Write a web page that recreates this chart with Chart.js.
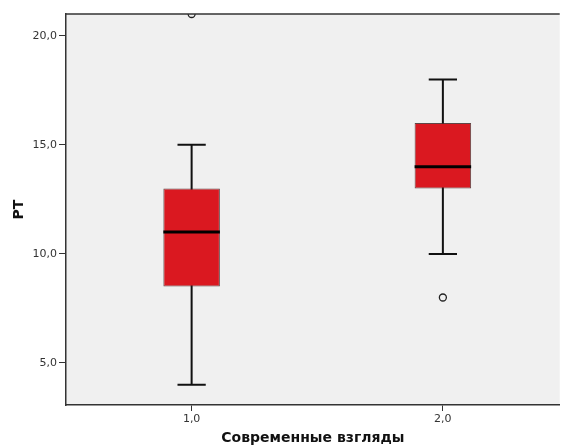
<!DOCTYPE html>
<html>
<head>
<meta charset="utf-8">
<script src="https://cdn.jsdelivr.net/npm/chart.js@4"></script>
<style>
	html, body { margin: 0; padding: 0; background: #fff; overflow: hidden; }
</style>
</head>
<body>
<canvas id="chart" width="565" height="448"></canvas>
<script>
// boxplot summary per group
const groups = [1, 2];
const whiskerLow = [4, 10];
const q1 = [8.5, 13];
const median = [11, 14];
const q3 = [13, 16];
const whiskerHigh = [15, 18];
const outlierGroups = [1, 2];
const outlierValues = [21, 8];
const yTicks = [5, 10, 15, 20];

const fmt = (v) => v.toFixed(1).replace(".", ",");

const boxPlugin = {
	id: "boxParts",
	beforeDraw(chart) {
		const { ctx, chartArea: a } = chart;
		ctx.save();
		ctx.fillStyle = "#f0f0f0";
		ctx.fillRect(a.left, a.top, a.right - a.left, a.bottom - a.top);
		ctx.restore();
	},
	beforeDatasetsDraw(chart) {
		const { ctx, scales } = chart;
		const y = scales.y;
		const bars = chart.getDatasetMeta(0).data;
		ctx.save();
		ctx.strokeStyle = "#111";
		ctx.lineWidth = 2;
		bars.forEach((bar, i) => {
			const cap = bar.width / 4;
			const lo = y.getPixelForValue(whiskerLow[i]);
			const hi = y.getPixelForValue(whiskerHigh[i]);
			ctx.beginPath();
			ctx.moveTo(bar.x, lo);
			ctx.lineTo(bar.x, hi);
			ctx.moveTo(bar.x - cap, lo);
			ctx.lineTo(bar.x + cap, lo);
			ctx.moveTo(bar.x - cap, hi);
			ctx.lineTo(bar.x + cap, hi);
			ctx.stroke();
		});
		ctx.restore();
	},
	afterDatasetsDraw(chart) {
		const { ctx, scales, chartArea: a } = chart;
		const y = scales.y;
		const bars = chart.getDatasetMeta(0).data;
		ctx.save();
		ctx.strokeStyle = "#000";
		ctx.lineWidth = 3;
		bars.forEach((bar, i) => {
			const m = y.getPixelForValue(median[i]);
			ctx.beginPath();
			ctx.moveTo(bar.x - bar.width / 2, m);
			ctx.lineTo(bar.x + bar.width / 2, m);
			ctx.stroke();
		});
		// top edge of the frame (right edge falls outside the picture)
		ctx.strokeStyle = "#333";
		ctx.lineWidth = 1.5;
		ctx.beginPath();
		ctx.moveTo(a.left, a.top);
		ctx.lineTo(a.right, a.top);
		ctx.stroke();
		ctx.restore();
	},
};

Chart.defaults.font.family = "'DejaVu Sans', Verdana, sans-serif";

new Chart(document.getElementById("chart").getContext("2d"), {
	data: {
		datasets: [
			{
				type: "bar",
				data: groups.map((g, i) => ({ x: g, y: [q1[i], q3[i]] })),
				backgroundColor: "rgb(218, 24, 32)",
				borderColor: "rgba(70, 40, 40, 0.85)",
				borderWidth: 1,
				borderSkipped: false,
				barPercentage: 0.225,
				categoryPercentage: 1,
				order: 2,
			},
			{
				type: "line",
				data: outlierGroups.map((g, i) => ({ x: g, y: outlierValues[i] })),
				showLine: false,
				pointRadius: 3.5,
				pointBorderWidth: 1.3,
				pointBorderColor: "#222",
				pointBackgroundColor: "rgba(0,0,0,0)",
				clip: 0,
				order: 1,
			},
		],
	},
	options: {
		responsive: false,
		animation: false,
		layout: { padding: { top: 14, right: 0, left: 0, bottom: 0 } },
		plugins: {
			legend: { display: false },
			tooltip: { enabled: false },
		},
		scales: {
			x: {
				type: "linear",
				offset: false,
				min: 0.5,
				max: 2.465,
				afterFit: (s) => { s.height = 43; },
				afterBuildTicks: (s) => { s.ticks = groups.map((v) => ({ value: v })); },
				grid: { offset: false, drawOnChartArea: false, drawTicks: true, tickLength: 6, tickColor: "#333" },
				border: { display: true, color: "#333", width: 1.5 },
				ticks: { color: "#333", font: { size: 11 }, padding: 2, callback: (v) => fmt(v) },
				title: {
					display: true,
					text: "Современные взгляды",
					color: "#111",
					font: { size: 14, weight: "bold" },
					padding: { top: 0, bottom: 1 },
				},
			},
			y: {
				min: 3.07,
				max: 21.0,
				afterFit: (s) => { s.width = 66; },
				afterBuildTicks: (s) => { s.ticks = yTicks.map((v) => ({ value: v })); },
				grid: { drawOnChartArea: false, drawTicks: true, tickLength: 7, tickColor: "#333" },
				border: { display: true, color: "#333", width: 1.5 },
				ticks: { color: "#333", font: { size: 11 }, padding: 2, callback: (v) => fmt(v) },
				title: {
					display: true,
					text: "РТ",
					color: "#111",
					font: { size: 14, weight: "bold" },
					padding: { top: 11, bottom: 0 },
				},
			},
		},
	},
	plugins: [boxPlugin],
});
</script>
</body>
</html>
